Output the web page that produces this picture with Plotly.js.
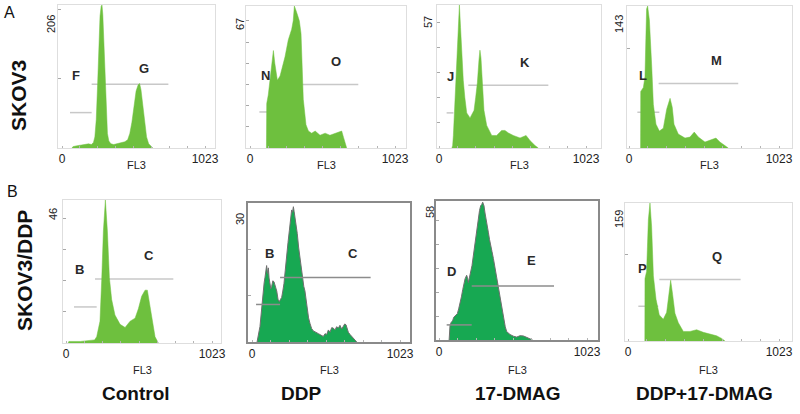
<!DOCTYPE html>
<html>
<head>
<meta charset="utf-8">
<script src="https://cdn.plot.ly/plotly-3.0.1.min.js"></script>
<style>html,body{margin:0;padding:0;background:#fff;}#chart{width:800px;height:414px;}</style>
</head>
<body>
<div id="chart"></div>
<script>
// ---------- DATA ----------
const rowLabels = ['SKOV3', 'SKOV3/DDP'];
const rowLetters = ['A', 'B'];
const colLabels = ['Control', 'DDP', '17-DMAG', 'DDP+17-DMAG'];
const axisTitle = 'FL3';
const xTickText = ['0', '1023'];
const yMaxLabels = [206, 67, 57, 143, 46, 30, 58, 159];

// SKOV3 - Control
const ch1 = [70,80,100,130,160,190,210,225,235,245,255,265,272,280,286,292,300,308,316,325,335,350,370,390,410,430,450,470,485,500,515,530,545,555,565,578,590,605,620,640,650];
const n1  = [0,2,3,4,4,6,5,8,16,41,93,155,190,204,206,192,148,93,45,21,10,6,5,6,7,8,9,12,21,37,62,82,91,93,84,62,37,16,6,1,0];
// SKOV3 - DDP
const ch2 = [116,118,129,145,158,165,175,185,193,212,230,247,270,294,305,313,329,348,360,365,376,395,412,435,460,494,530,564,611,647,660,670,682];
const n2  = [0,21,25,34,42,46,40,34,32,34,39,43,51,56,60,67,64,60,54,46,23,11,8,7,8,6,7,6,7,8,5,3,0];
// SKOV3 - 17-DMAG
const ch3 = [90,95,100,108,115,122,128,135,142,150,158,169,180,193,216,244,255,267,278,285,292,297,305,313,332,367,401,436,459,483,517,564,606,633,668,691];
const n3  = [0,1,5,15,26,38,46,53,57,48,38,27,20,14,12,15,20,26,35,39,36,31,22,15,9,5,5,7,7,6,5,4,5,3,1,0];
// SKOV3 - DDP+17-DMAG
const ch4 = [79,80,98,109,115,120,127,133,139,155,166,184,207,234,257,280,295,307,336,382,416,445,473,518,564,593,620,666,677];
const n4  = [0,57,61,72,110,140,143,138,129,82,44,24,17,20,39,50,41,24,14,10,11,16,11,6,8,10,6,1,0];
// SKOV3/DDP - Control
const ch5 = [15,20,100,200,215,238,250,262,276,290,304,320,343,379,414,449,484,507,530,554,570,593,624,647];
const n5  = [0,0.5,0.5,1,2,7,20,36,46,36,21,14,9,6,5,7,8,11,15,17,17,10,2,0];
// SKOV3/DDP - DDP
const ch6 = [35,37,50,55,62,67,73,78,84,90,95,101,107,113,118,124,130,136,144,152,160,171,180,189,197,205,213,221,230,240,249,258,266,274,280,286,291,297,305,313,322,332,341,350,358,366,374,382,391,401,412,424,440,459,476,493,505,516,528,539,551,562,574,585,597,608,620,631,641,650,658,666,678,689,700,712,724];
const n6  = [0,0.5,2.5,3.3,5.5,7.5,10,12,12.8,14,15.5,16.5,14.8,16,13.8,13,11.5,12,13.2,13,12,11,9.2,8.7,9.2,9.6,11,12.6,15.5,18,21.5,24,26.8,28.5,28,29.2,28.2,27,25.5,23.4,20.5,18,15.2,14,12,11,8.8,7.5,5.2,4,2.9,2.4,2.2,1.8,1.5,1.2,1.8,1.6,2.6,2.1,3.1,3,2.6,3.3,3,3.6,2.8,3.3,3.9,3.7,2.9,2.1,1.6,1.2,0.7,0.3,0];
// SKOV3/DDP - 17-DMAG
const ch7 = [70,76,85,94,102,111,119,127,136,145,155,164,172,180,191,197,203,211,219,228,237,246,256,264,272,280,288,295,302,311,318,325,333,341,349,357,366,376,388,399,408,417,425,433,441,449,458,468,480,491,514,537,560,583,606,629,647];
const n7  = [0,6,7.5,8,9.5,10,10.5,11,13,15,18,21,23.5,25.5,27,26,24,26,28,31,35,39,43,48,52,54,56,56.5,57.5,56,53,50,47,45,42,39,37,34,30,25.5,23,20,17,14,11,8,5.5,3.5,2.8,2.3,1.6,1.2,1.8,1.7,1.1,0.6,0];
// SKOV3/DDP - DDP+17-DMAG
const ch8 = [114,115,126,138,149,160,172,190,212,239,262,278,289,302,318,341,375,420,465,510,555,600,634,657];
const n8  = [0,72,80,140,159,132,75,48,30,25,33,59,70,54,32,21,11,11,13,10,8,6,3,0];

// gate markers: [channel start, channel end, count level]
const gateLeft  = [[57,212,51],[66,212,17],[53,100,14],[57,207,36],[56,215,11.6],[28,194,8.1],[53,226,6.3],[70,205,40]];
const gateRight = [[212,761,92],[193,764,30],[204,761,25],[202,745,65],[203,752,20.6],[194,820,13.9],[226,795,22.5],[212,763,71]];
const gateNames = [['F','G'],['N','O'],['J','K'],['L','M'],['B','C'],['B','C'],['D','E'],['P','Q']];
const gateNameLeftPos  = [[100,105],[110,34],[81,28.5],[93,73],[98,23.6],[120,19.2],[88,28.5],[99,84]];
const gateNameRightPos = [[587,114],[607,41],[599,34],[598,88],[584,28],[700,19],[641,33],[605,97]];

const chans = [ch1,ch2,ch3,ch4,ch5,ch6,ch7,ch8];
const counts = [n1,n2,n3,n4,n5,n6,n7,n8];

// ---------- LAYOUT (pixel geometry) ----------
const W = 800, H = 414;
const geom = [
  {L:58, R:215, T:5,   B:148, p0:62,  p1:205},
  {L:246,R:406, T:6,   B:148, p0:250, p1:395},
  {L:437,R:601, T:5,   B:148, p0:439, p1:586},
  {L:627,R:792, T:6,   B:148, p0:629, p1:779},
  {L:63, R:221, T:200, B:343, p0:66,  p1:212},
  {L:248,R:410, T:203, B:342, p0:252, p1:400},
  {L:436,R:598, T:201, B:340, p0:439, p1:587},
  {L:625,R:792, T:203, B:341, p0:628, p1:779}
];
const yDtick = [100,10,10,100,10,10,10,100];
const yLabX = [51,240,428,619,53,240,430,619];
const yLabY = [24,24,22,24,214,219,212,219];
const darkFrame = [false,false,false,false,false,true,true,false];

const FONT = '"Liberation Sans", Arial, Helvetica, sans-serif';
const NARROW = '"Liberation Sans Narrow", "Arial Narrow", "Liberation Sans", Arial, sans-serif';
const px = x => x / W;
const py = y => 1 - y / H;

const lightGreen = '#6ec03e';
const darkGreen = '#17a852';

const traces = [];
const layout = {
  width: W, height: H,
  margin: {l:0, r:0, t:0, b:0},
  paper_bgcolor: '#fff', plot_bgcolor: '#fff',
  showlegend: false,
  font: {family: FONT, color: '#222'},
  shapes: [], annotations: []
};

const xTickVals = [0,128,256,384,512,640,768,896,1023];
const xTickLab = xTickVals.map(v => v === 0 ? xTickText[0] : (v === 1023 ? xTickText[1] : ''));

geom.forEach((g, i) => {
  const n = i + 1;
  const xr = n === 1 ? 'x' : 'x' + n;
  const yr = n === 1 ? 'y' : 'y' + n;
  const xa = n === 1 ? 'xaxis' : 'xaxis' + n;
  const ya = n === 1 ? 'yaxis' : 'yaxis' + n;
  const s = (g.p1 - g.p0) / 1023;
  const dark = darkFrame[i];
  const frameColor = dark ? '#8a8a8a' : '#dedede';

  traces.push({
    type: 'scatter', mode: 'lines', x: chans[i], y: counts[i],
    xaxis: xr, yaxis: yr, fill: 'tozeroy',
    fillcolor: dark ? darkGreen : lightGreen,
    line: {color: dark ? '#6f6f6f' : lightGreen, width: dark ? 1 : 0.5},
    hoverinfo: 'skip'
  });

  layout[xa] = {
    domain: [px(g.L), px(g.R)], anchor: yr,
    range: [(g.L - g.p0) / s, (g.R - g.p0) / s],
    showgrid: false, zeroline: false,
    showline: true, mirror: true, linecolor: frameColor, linewidth: dark ? 2 : 1,
    tickmode: 'array', tickvals: xTickVals, ticktext: xTickLab,
    ticks: 'inside', ticklen: 2, tickcolor: '#b5b5b5',
    tickfont: {size: 12, color: '#222', family: FONT},
    fixedrange: true
  };
  layout[ya] = {
    domain: [py(g.B), py(g.T)], anchor: xr,
    range: [0, yMaxLabels[i]],
    showgrid: false, zeroline: false,
    showline: true, mirror: true, linecolor: frameColor, linewidth: dark ? 2 : 1,
    showticklabels: false, ticks: 'inside', ticklen: 3, tickcolor: '#a8a8a8',
    tick0: 0, dtick: yDtick[i], fixedrange: true
  };

  // gate lines
  const gcol = dark ? '#8c8c8c' : '#c8c8c8';
  [gateLeft[i], gateRight[i]].forEach(gt => {
    layout.shapes.push({type: 'line', xref: xr, yref: yr, layer: dark ? 'above' : 'below',
      x0: gt[0], x1: gt[1], y0: gt[2], y1: gt[2],
      line: {color: gcol, width: 1.5}});
  });
  // gate letters
  [[gateNames[i][0], gateNameLeftPos[i]], [gateNames[i][1], gateNameRightPos[i]]].forEach(([t, p]) => {
    layout.annotations.push({xref: xr, yref: yr, x: p[0], y: p[1], text: '<b>' + t + '</b>',
      showarrow: false, font: {size: 13, color: '#2a2a2a', family: FONT}});
  });
  // y max label
  layout.annotations.push({xref: 'paper', yref: 'paper', x: px(yLabX[i]), y: py(yLabY[i]),
    text: String(yMaxLabels[i]), textangle: -90, showarrow: false,
    xanchor: 'center', yanchor: 'middle', font: {size: 11, color: '#222', family: FONT}});
  // FL3 title
  layout.annotations.push({xref: 'paper', yref: 'paper', x: px((g.L + g.R) / 2), y: py(i < 4 ? 165 : 370),
    text: axisTitle, showarrow: false, xanchor: 'center', yanchor: 'middle',
    font: {size: 11, color: '#222', family: FONT}});
});

// row letters and row labels
const rowLetterPos = [[9, 12], [12, 191]];
const rowLabelPos = [[18, 96], [24, 271]];
rowLetters.forEach((t, i) => {
  layout.annotations.push({xref: 'paper', yref: 'paper', x: px(rowLetterPos[i][0]), y: py(rowLetterPos[i][1]),
    text: t, showarrow: false, xanchor: 'center', yanchor: 'middle',
    font: {size: 16, color: '#111', family: FONT}});
});
rowLabels.forEach((t, i) => {
  layout.annotations.push({xref: 'paper', yref: 'paper', x: px(rowLabelPos[i][0]), y: py(rowLabelPos[i][1]),
    text: '<b>' + t + '</b>', textangle: -90, showarrow: false, xanchor: 'center', yanchor: 'middle',
    font: {size: 21, color: '#111', family: FONT}});
});
// column labels
const colLabelX = [136, 301, 518, 704];
colLabels.forEach((t, i) => {
  layout.annotations.push({xref: 'paper', yref: 'paper', x: px(colLabelX[i]), y: py(393),
    text: '<b>' + t + '</b>', showarrow: false, xanchor: 'center', yanchor: 'middle',
    font: {size: 19, color: '#111', family: FONT}});
});

Plotly.newPlot('chart', traces, layout, {staticPlot: true, displayModeBar: false});
</script>
</body>
</html>
